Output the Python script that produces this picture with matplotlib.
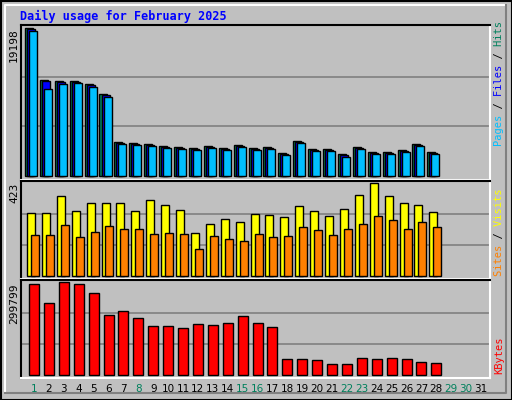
import matplotlib.pyplot as plt
import numpy as np

# Webalizer style daily usage, February 2025
days = np.arange(1, 29)
hits = [19198, 12407, 12276, 12276, 11885, 10579, 4310, 4179, 4049, 3787, 3657, 3526, 3787, 3526,
        3918, 3526, 3657, 2873, 4440, 3396, 3396, 2743, 3657, 3004, 3004, 3265, 4049, 3004]
files = [19070, 12280, 12150, 12150, 11750, 10450, 4180, 4050, 3920, 3660, 3530, 3400, 3660, 3400,
         3790, 3400, 3530, 2750, 4310, 3270, 3270, 2620, 3530, 2880, 2880, 3140, 3920, 2880]
pages = [18800, 11230, 11890, 12020, 11500, 10200, 4050, 3920, 3790, 3530, 3400, 3270, 3530, 3270,
         3660, 3270, 3400, 2620, 4180, 3140, 3140, 2480, 3400, 2750, 2750, 3010, 3790, 2750]
visits = [287, 287, 364, 296, 332, 332, 332, 296, 346, 323, 300, 196, 236, 259,
          246, 282, 277, 268, 318, 296, 273, 305, 368, 423, 364, 332, 323, 291]
sites = [186, 186, 232, 177, 200, 227, 214, 214, 191, 196, 191, 123, 182, 168,
         159, 191, 177, 182, 223, 209, 186, 214, 236, 273, 255, 214, 246, 223]
kbytes = [293210, 230615, 299799, 293210, 263560, 194376, 207554, 184492, 158136, 158136, 151547,
          164725, 161430, 168020, 191081, 168020, 154842, 52712, 52712, 49418, 36240, 36240,
          56007, 52712, 56007, 52712, 42829, 39534]
day_labels = [str(d) for d in range(1, 32)]
green_days = [1, 8, 15, 16, 22, 23, 29, 30]

W, H = 512, 400
BG = '#C0C0C0'
GREEN = '#00805C'
MONO = 'DejaVu Sans Mono'

fig = plt.figure(figsize=(W / 100, H / 100), dpi=100, facecolor=BG)


def px_rect(x0, y0, x1, y1):
    return [x0 / W, 1 - y1 / H, (x1 - x0) / W, (y1 - y0) / H]


# outer frame
frame = fig.add_axes([0, 0, 1, 1])
frame.set_xlim(0, W)
frame.set_ylim(H, 0)
frame.axis('off')
frame.plot([0.5, W - 0.5, W - 0.5, 0.5, 0.5], [0.5, 0.5, H - 0.5, H - 0.5, 0.5], color='black', lw=1.5)
frame.plot([5, 5, 506], [393, 5, 5], color='white', lw=1.5)
frame.plot([5, 506, 506], [393, 393, 5], color='#808080', lw=1.5)
frame.text(20, 16, 'Daily usage for February 2025', color='#0000FF', family=MONO,
           weight='bold', fontsize=8.5, va='center', ha='left')

X0, X1 = 21, 490
slot = 14.9
xl = (1 - (34 - X0) / slot, 1 + (X1 - 34) / slot)


def panel(y0, y1, vmax):
    ax = fig.add_axes(px_rect(X0, y0, X1, y1))
    ax.set_facecolor(BG)
    ax.set_xlim(*xl)
    ax.set_ylim(-vmax * 0.03, vmax * 1.02)
    for s in ax.spines.values():
        s.set_linewidth(1.5)
    ax.spines['left'].set_color('black')
    ax.spines['top'].set_color('black')
    ax.spines['right'].set_color('white')
    ax.spines['bottom'].set_color('white')
    ax.set_xticks([])
    ax.set_yticks([])
    for f in (1 / 3, 2 / 3):
        ax.axhline(vmax * f, color='#808080', lw=1.2, zorder=0)
    return ax


def vlabel(x, yc, parts):
    full = ''.join(p for p, _ in parts)
    pos = 0
    for p, c in parts:
        s = ' ' * pos + p + ' ' * (len(full) - pos - len(p))
        frame.text(x, yc, s, rotation=90, color=c, family=MONO, fontsize=7.5,
                   ha='center', va='center')
        pos += len(p)


u = 1 / slot  # one pixel in day units
bar_kw = dict(edgecolor='black', linewidth=1, align='edge', zorder=3)

ax1 = panel(25, 180, 19198)
ax1.bar(days - 9 * u, hits, width=8 * u, color=GREEN, **bar_kw)
ax1.bar(days - 7 * u, files, width=8 * u, color='#0000FF', **bar_kw)
ax1.bar(days - 5 * u, pages, width=8 * u, color='#00BFFF', **bar_kw)

ax2 = panel(181, 279, 423)
ax2.bar(days - 7 * u, visits, width=8 * u, color='#FFFF00', **bar_kw)
ax2.bar(days - 3 * u, sites, width=8 * u, color='#FF8000', **bar_kw)

ax3 = panel(280, 378, 299799)
ax3.bar(days - 5 * u, kbytes, width=10 * u, color='#FF0000', **bar_kw)

# left max labels
for yt, txt in ((28, '19198'), (183, '423'), (283, '299799')):
    frame.text(14, yt, txt, rotation=90, family=MONO, fontsize=8, ha='center', va='top')

vlabel(499, 84, [('Pages', '#00BFFF'), (' / ', 'black'), ('Files', '#0000FF'),
                 (' / ', 'black'), ('Hits', GREEN)])
vlabel(499, 232, [('Sites', '#FF8000'), (' / ', 'black'), ('Visits', '#FFFF00')])
vlabel(499, 355, [('KBytes', '#FF0000')])

for i, lab in enumerate(day_labels):
    d = i + 1
    frame.text(34 + slot * i, 389, lab, family='DejaVu Sans', fontsize=7.5, ha='center',
               va='center', color=GREEN if d in green_days else 'black')

fig.savefig('out.png', dpi=100, facecolor=BG)
